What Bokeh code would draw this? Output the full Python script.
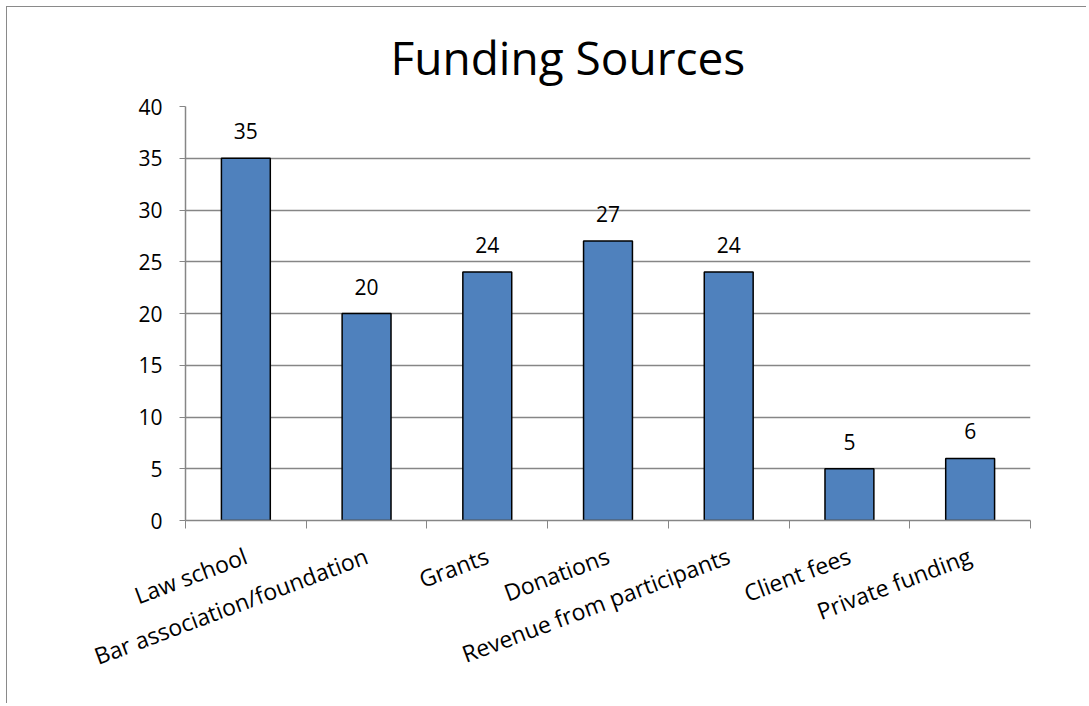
from bokeh.plotting import figure
from bokeh.models import ColumnDataSource, FixedTicker, LabelSet, Range1d
from bokeh.core.properties import value
from bokeh.embed import file_html
from bokeh.resources import INLINE

categories = ["Law school", "Bar association/foundation", "Grants", "Donations",
              "Revenue from participants", "Client fees", "Private funding"]
values = [35, 20, 24, 27, 24, 5, 6]
y_ticks = [0, 5, 10, 15, 20, 25, 30, 35, 40]
title_text = "Funding Sources"

FONT = "Open Sans"
GRAY = "#868686"
BAR = "#4F81BD"

xs = [i + 0.5 for i in range(len(categories))]
src = ColumnDataSource(dict(x=xs, top=values, label=[str(v) for v in values]))

p = figure(width=1080, height=697, output_backend="svg", toolbar_location=None,
           x_range=Range1d(0, len(categories)), y_range=Range1d(0, y_ticks[-1]),
           min_border_left=178, min_border_right=57, min_border_top=99,
           min_border_bottom=184)

p.styles = {"border-left": "1px solid #8a8a8a", "border-top": "1px solid #8a8a8a",
            "margin-left": "6px", "margin-top": "6px"}

p.vbar(x="x", top="top", bottom=0, width=0.405, source=src,
       fill_color=BAR, line_color="black", line_width=1.5)

p.add_layout(LabelSet(x="x", y="top", text="label", source=src,
                      text_align="center", text_baseline="alphabetic", y_offset=19,
                      text_font=value(FONT), text_font_size=value("21px"),
                      text_color="black"))

# title
p.title.text = title_text
p.title.text_font = FONT
p.title.text_font_size = "46px"
p.title.text_font_style = "normal"
p.title.text_color = "black"
p.title.align = "left"
p.title.offset = 205
p.title.standoff = 34
p.title.vertical_align = "top"

# x axis
xa = p.xaxis[0]
xa.ticker = FixedTicker(ticks=xs, minor_ticks=list(range(len(categories) + 1)))
xa.major_label_overrides = {x: c for x, c in zip(xs, categories)}
xa.major_tick_out = 0
xa.major_tick_in = 0
xa.minor_tick_out = 8
xa.minor_tick_in = 0
xa.minor_tick_line_color = GRAY
xa.axis_line_color = GRAY
xa.axis_line_width = 1.5
xa.major_label_orientation = 0.36
xa.major_label_text_font = FONT
xa.major_label_text_font_size = "23px"
xa.major_label_text_color = "black"
xa.major_label_standoff = 26

# y axis
ya = p.yaxis[0]
ya.ticker = FixedTicker(ticks=y_ticks)
ya.major_tick_out = 6
ya.major_tick_in = 0
ya.minor_tick_out = 0
ya.minor_tick_in = 0
ya.major_tick_line_color = GRAY
ya.axis_line_color = GRAY
ya.axis_line_width = 1.5
ya.major_label_text_font = FONT
ya.major_label_text_font_size = "21px"
ya.major_label_text_color = "black"
ya.major_label_standoff = 17

p.xgrid.visible = False
p.ygrid.ticker = FixedTicker(ticks=y_ticks)
p.ygrid.grid_line_color = GRAY
p.ygrid.grid_line_width = 1.5
p.outline_line_color = None

open("out.html", "w").write(file_html(p, INLINE))
